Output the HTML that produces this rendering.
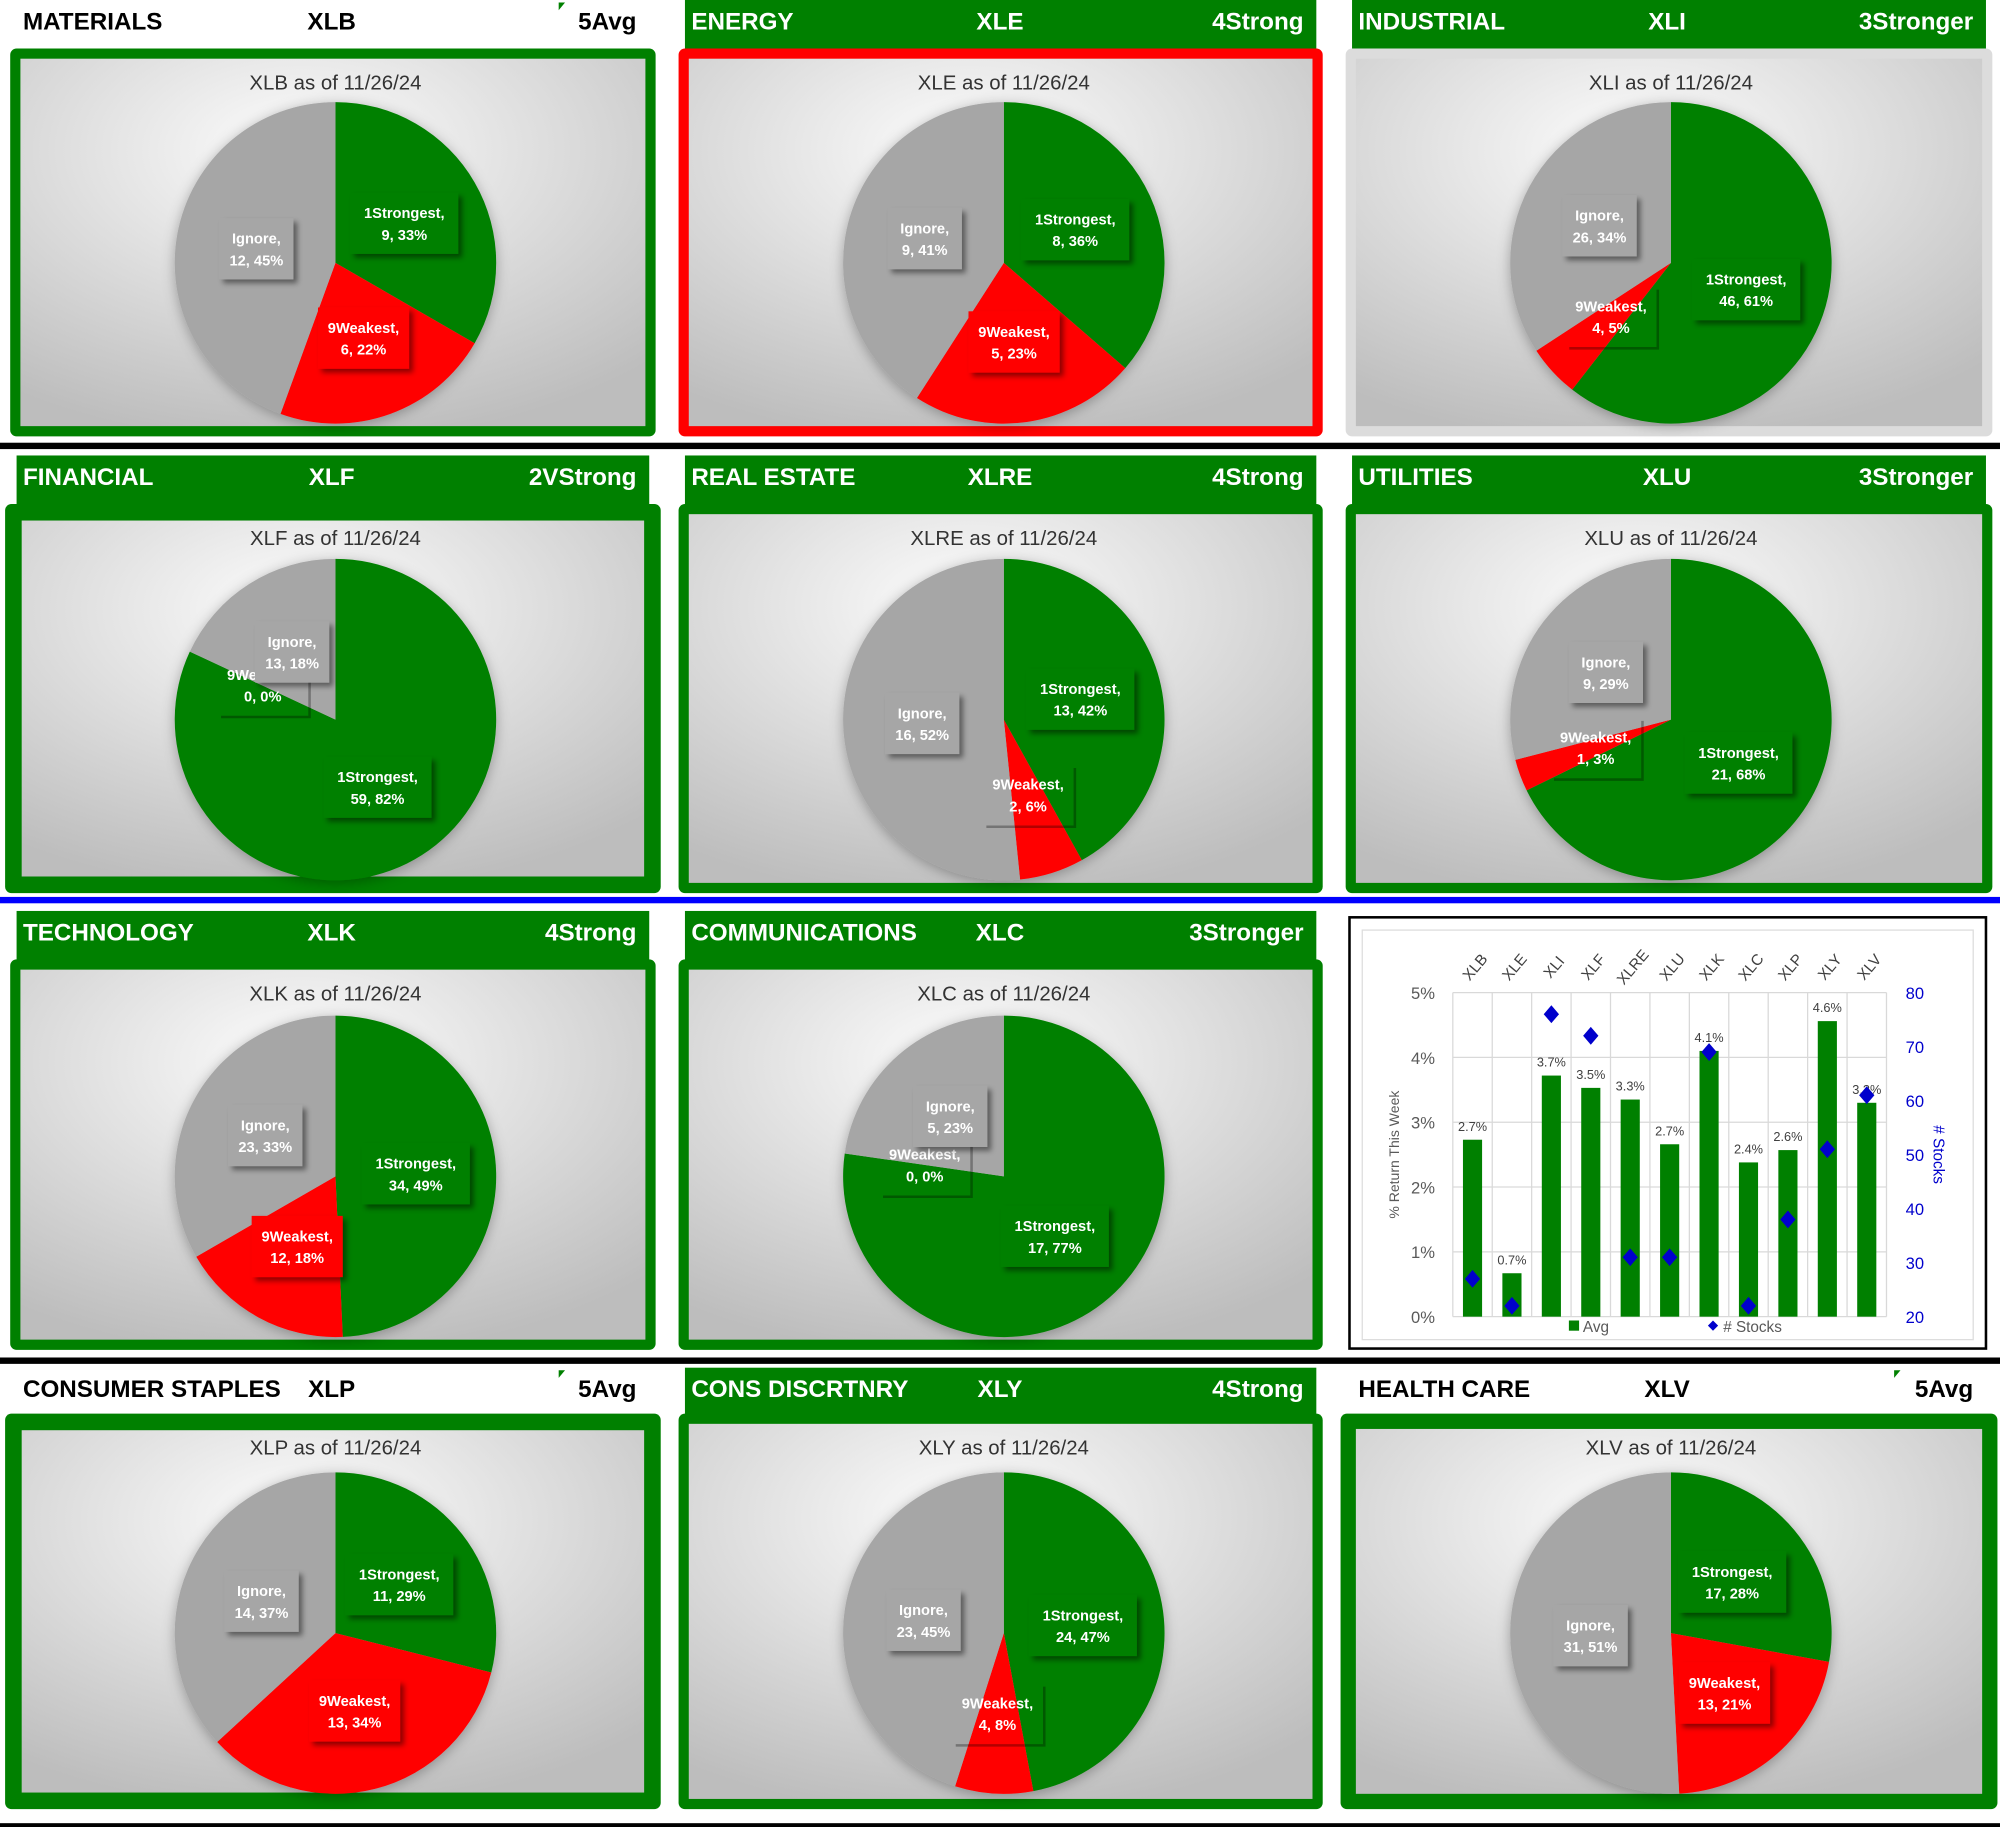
<!DOCTYPE html>
<html><head><meta charset="utf-8">
<style>
html,body{margin:0;padding:0;background:#fff;}
svg{display:block;font-family:"Liberation Sans",sans-serif;}
</style></head>
<body>
<svg id="root" width="2000" height="1827" viewBox="0 0 1568 1432" preserveAspectRatio="none" xmlns="http://www.w3.org/2000/svg">
<defs>
<radialGradient id="bg" cx="45%" cy="25%" r="80%">
<stop offset="0" stop-color="#fdfdfd"/><stop offset="1" stop-color="#bdbdbd"/>
</radialGradient>
<filter id="sh" x="-20%" y="-20%" width="150%" height="150%"><feDropShadow dx="3" dy="3" stdDeviation="2" flood-color="#000" flood-opacity="0.45"/></filter>
<filter id="psh" x="-20%" y="-20%" width="140%" height="140%"><feDropShadow dx="0" dy="2" stdDeviation="5" flood-color="#000" flood-opacity="0.3"/></filter>
</defs>
<rect x="0" y="347" width="1568" height="5" fill="#000"/>
<rect x="0" y="703" width="1568" height="5" fill="#0000ff"/>
<rect x="0" y="1064" width="1568" height="5" fill="#000"/>
<rect x="0" y="1429" width="1568" height="3" fill="#000"/>
</svg>
<script>
// ---- pie data ----
const tickers = ["XLB","XLE","XLI","XLF","XLRE","XLU","XLK","XLC","XLP","XLY","XLV"];
const sectorNames = ["MATERIALS","ENERGY","INDUSTRIAL","FINANCIAL","REAL ESTATE","UTILITIES","TECHNOLOGY","COMMUNICATIONS","CONSUMER STAPLES","CONS DISCRTNRY","HEALTH CARE"];
const ratings = ["5Avg","4Strong","3Stronger","2VStrong","4Strong","3Stronger","4Strong","3Stronger","5Avg","4Strong","5Avg"];
const strongCounts = [9,8,46,59,13,21,34,17,11,24,17];
const weakCounts = [6,5,4,0,2,1,12,0,13,4,13];
const ignoreCounts = [12,9,26,13,16,9,23,5,14,23,31];
const strongPct = [33,36,61,82,42,68,49,77,29,47,28];
const weakPct = [22,23,5,0,6,3,18,0,34,8,21];
const ignorePct = [45,41,34,18,52,29,33,23,37,45,51];
const asOf = "11/26/24";

// ---- bar chart data ----
const barCats = ["XLB","XLE","XLI","XLF","XLRE","XLU","XLK","XLC","XLP","XLY","XLV"];
const avgReturn = [2.73,0.67,3.72,3.53,3.35,2.66,4.10,2.38,2.57,4.56,3.30];
const avgLabels = ["2.7%","0.7%","3.7%","3.5%","3.3%","2.7%","4.1%","2.4%","2.6%","4.6%","3.3%"];
const stockCounts = [27,22,76,72,31,31,69,22,38,51,61];
const leftTicks = [0,1,2,3,4,5];
const rightTicks = [20,30,40,50,60,70,80];

const NS="http://www.w3.org/2000/svg";
const root=document.getElementById('root');
function mk(tag,attrs,parent,text){const e=document.createElementNS(NS,tag);for(const k in attrs)e.setAttribute(k,attrs[k]);if(text!==undefined)e.textContent=text;(parent||root).appendChild(e);return e;}

// layout (not data)
const colX=[[8,514],[532,1037],[1055,1562]];
const rowY=[[0,38,342],[357,395,700],[714,752,1058],[1072,1108,1418]];
const cxs=[263,787,1310], cys=[206,564,922,1280], R=126;
const headerGreen=[false,true,true,true,true,true,true,true,false,true,false];
const frameColor=["#008000","#ff0000","#dcdcdc","#008000","#008000","#008000","#008000","#008000","#008000","#008000","#008000"];
const frameOut=[0,0,0,4,0,0,0,0,4,0,4];
const frameIn=[8,8,8,13,8,8,8,8,13,8,12];
const labelPos=[
 [[317,175],[285,265],[201,195]],[[843,180],[795,268],[725,187]],[[1369,227],[1263,248],[1254,177]],
 [[296,617],[206,537],[229,511]],[[847,548],[806,623],[723,567]],[[1363,598],[1251,586],[1259,527]],
 [[326,920],[233,977],[208,890]],[[827,969],[725,913],[745,875]],
 [[313,1242],[278,1341],[205,1255]],[[849,1274],[782,1343],[724,1270]],[[1358,1240],[1352,1327],[1247,1282]]];
const clearWeak=[false,false,true,true,true,true,false,true,false,true,false];
const slot=[[0,0],[0,1],[0,2],[1,0],[1,1],[1,2],[2,0],[2,1],[3,0],[3,1],[3,2]];

tickers.forEach((t,i)=>{
  const [r,c]=slot[i]; let [x0,x1]=colX[c]; const [hy,fy,fb]=rowY[r];
  const g=mk('g',{});
  
  
  const green=headerGreen[i];
  if(green){const hb=mk('rect',{x:x0+5,y:hy,width:x1-x0-10,height:fy-hy+4,fill:'#008000'},g);
    }
  else{mk('path',{d:`M${x0+430} ${hy+2} l5 0 l-5 6 z`,fill:'#008000'},g);}
  const tc=green?'#fff':'#000';
  const n=mk('text',{x:x0+10,y:hy+23,'font-size':19,'font-weight':'bold',fill:tc},g,sectorNames[i]);
  
  const tk=mk('text',{x:x0+252,y:hy+23,'font-size':19,'font-weight':'bold',fill:tc,'text-anchor':'middle'},g,t);
  
  const rt=mk('text',{x:x1-15,y:hy+23,'font-size':19,'font-weight':'bold',fill:tc,'text-anchor':'end'},g,ratings[i]);
  
  const fo=frameOut[i], fi=frameIn[i];
  const fr=mk('rect',{x:x0-fo,y:fy,width:x1-x0+2*fo,height:fb-fy,rx:5,fill:frameColor[i]},g);
  
  mk('rect',{x:x0-fo+fi,y:fy+fi,width:x1-x0+2*fo-2*fi,height:fb-fy-2*fi,fill:'url(#bg)'},g);
  const ti=mk('text',{x:cxs[c],y:fy+32,'font-size':16,fill:'#333','text-anchor':'middle'},g,t+' as of '+asOf);
  
  const cx=cxs[c],cy=cys[r];
  const vals=[strongCounts[i],weakCounts[i],ignoreCounts[i]];
  const pcts=[strongPct[i],weakPct[i],ignorePct[i]];
  const cols=['#008000','#ff0000','#a6a6a6'];
  const names=['1Strongest','9Weakest','Ignore'];
  const tot=vals.reduce((a,b)=>a+b,0);
  const pg=mk('g',{filter:'url(#psh)'},g);
  let a0=-Math.PI/2;
  vals.forEach((v,k)=>{
    if(v<=0)return;
    const a1=a0+v/tot*2*Math.PI;
    const large=(a1-a0)>Math.PI?1:0;
    const p=mk('path',{d:`M${cx} ${cy} L${cx+R*Math.cos(a0)} ${cy+R*Math.sin(a0)} A${R} ${R} 0 ${large} 1 ${cx+R*Math.cos(a1)} ${cy+R*Math.sin(a1)} Z`,fill:cols[k]},pg);
    
    
    a0=a1;
  });
  vals.forEach((v,k)=>{
    const [lx,ly]=labelPos[i][k];
    const l1=names[k]+',', l2=v+', '+pcts[k]+'%';
    const w=Math.max(l1.length,l2.length)*6.6+12, h=48;
    const lg=mk('g',{},g);
    
    
    if(k===1&&clearWeak[i]){
      mk('path',{d:`M${lx+w/2+1} ${ly-h/2+3} V${ly+h/2+1} H${lx-w/2+3}`,fill:'none',stroke:'#000','stroke-opacity':0.3,'stroke-width':2},lg);
    } else {
      mk('rect',{x:lx-w/2,y:ly-h/2,width:w,height:h,fill:cols[k],filter:'url(#sh)'},lg);
    }
    mk('text',{x:lx,y:ly-4,'font-size':11.5,'font-weight':'bold',fill:'#fff','text-anchor':'middle'},lg,l1);
    mk('text',{x:lx,y:ly+13,'font-size':11.5,'font-weight':'bold',fill:'#fff','text-anchor':'middle'},lg,l2);
  });
});

// ---- bar chart ----
const bc=mk('g',{});


mk('rect',{x:1058,y:719,width:499,height:338,fill:'#fff',stroke:'#000','stroke-width':2},bc);
mk('rect',{x:1068,y:729,width:479,height:321,fill:'none',stroke:'#ddd','stroke-width':1},bc);
const PL=1139,PR=1479,PB=1032,PT=778;
const bw=(PR-PL)/barCats.length;
const yL=v=>PB-(v-0)/(5-0)*(PB-PT);
const yR=v=>PB-(v-20)/(80-20)*(PB-PT);
const xC=i=>PL+bw*(i+0.5);
leftTicks.forEach(v=>{
  mk('line',{x1:PL,x2:PR,y1:yL(v),y2:yL(v),stroke:'#d9d9d9'},bc);
  const t=mk('text',{x:1125,y:yL(v)+5,'font-size':13,fill:'#595959','text-anchor':'end'},bc,v+'%');
  
});
for(let i=0;i<=barCats.length;i++)mk('line',{x1:PL+bw*i,x2:PL+bw*i,y1:PT,y2:PB,stroke:'#d9d9d9'},bc);
rightTicks.forEach(v=>{
  const t=mk('text',{x:1494,y:yR(v)+5,'font-size':13,fill:'#0000cc'},bc,String(v));
  
});
barCats.forEach((c,i)=>{
  const x=xC(i);
  const b=mk('rect',{x:x-7.5,y:yL(avgReturn[i]),width:15,height:PB-yL(avgReturn[i]),fill:'#008000'},bc);
  
  const lb=mk('text',{x:x,y:yL(avgReturn[i])-7,'font-size':10,fill:'#404040','text-anchor':'middle'},bc,avgLabels[i]);
  
  const cl=mk('text',{x:x+2,y:762,'font-size':12,fill:'#404040','text-anchor':'middle',transform:`rotate(-50 ${x+2} 758)`},bc,c);
  
  const yy=yR(stockCounts[i]);
  const d=mk('path',{d:`M${x} ${yy-7} L${x+6} ${yy} L${x} ${yy+7} L${x-6} ${yy} Z`,fill:'#0000cc'},bc);
  
});
const at=mk('text',{x:1097,y:905,'font-size':11,fill:'#595959','text-anchor':'middle',transform:'rotate(-90 1097 905)'},bc,'% Return This Week');

const at2=mk('text',{x:1516,y:905,'font-size':12,fill:'#0000cc','text-anchor':'middle',transform:'rotate(90 1516 905)'},bc,'# Stocks');

const lg1=mk('g',{},bc);
mk('rect',{x:1230,y:1035,width:8,height:8,fill:'#008000'},lg1);
mk('text',{x:1241,y:1044,'font-size':12,fill:'#595959'},lg1,'Avg');
const lg2=mk('g',{},bc);
mk('path',{d:'M1343 1035 L1347 1039 L1343 1043 L1339 1039 Z',fill:'#0000cc'},lg2);
mk('text',{x:1351,y:1044,'font-size':12,fill:'#595959'},lg2,'# Stocks');
</script>
</body></html>
